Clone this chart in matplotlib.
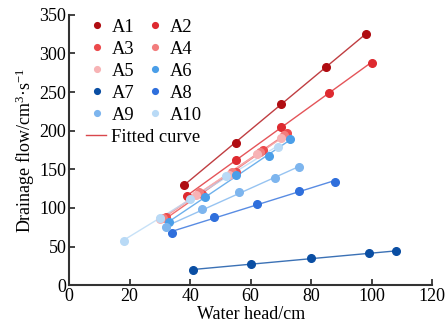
import matplotlib.pyplot as plt
import numpy as np

plt.rcParams['font.family'] = ['Liberation Serif', 'DejaVu Serif']
plt.rcParams['mathtext.fontset'] = 'custom'
plt.rcParams['mathtext.rm'] = 'Liberation Serif'
plt.rcParams['mathtext.it'] = 'Liberation Serif:italic'

# water head (cm) and drainage flow (cm3/s) per sample
names = ["A1", "A2", "A3", "A4", "A5", "A6", "A7", "A8", "A9", "A10"]
head = {
    "A1": [38, 55, 70, 85, 98],
    "A2": [39, 55, 70, 86, 100],
    "A3": [32, 44, 55, 64, 72],
    "A4": [31, 43, 54, 63, 71],
    "A5": [30, 42, 53, 62, 70],
    "A6": [33, 45, 55, 66, 73],
    "A7": [41, 60, 80, 99, 108],
    "A8": [34, 48, 62, 76, 88],
    "A9": [32, 44, 56, 68, 76],
    "A10": [18, 30, 40, 52, 69],
}
flow = {
    "A1": [130, 184, 234, 283, 325],
    "A2": [115, 162, 205, 249, 288],
    "A3": [88, 118, 147, 175, 197],
    "A4": [87, 120, 146, 172, 195],
    "A5": [86, 117, 143, 170, 190],
    "A6": [82, 114, 142, 167, 189],
    "A7": [20, 27, 35, 41, 44],
    "A8": [68, 88, 105, 122, 134],
    "A9": [75, 98, 120, 139, 153],
    "A10": [57, 87, 112, 141, 179],
}
colors = {
    "A1": "#b00d12", "A2": "#de2a30", "A3": "#ec4a4c", "A4": "#f27d7d",
    "A5": "#f7b3b5", "A6": "#4a9ee8", "A7": "#0a4ea3", "A8": "#2f6fdc",
    "A9": "#7db5ee", "A10": "#b9daf6",
}

fig = plt.figure(figsize=(4.46, 3.30), dpi=100)
ax = fig.add_axes([0.155, 0.136, 0.814, 0.819])

handles = {}
for n in names:
    x = np.array(head[n], dtype=float)
    y = np.array(flow[n], dtype=float)
    k, b = np.polyfit(x, y, 1)
    xs = np.array([x.min(), x.max()])
    ax.plot(xs, k * xs + b, color=colors[n], lw=1.0, alpha=0.8, zorder=2)
    h, = ax.plot(x, y, 'o', color=colors[n], ms=5.5, ls='none', zorder=3, label=n)
    handles[n] = h

fit_h, = ax.plot([], [], color="#d9474c", lw=1.0, label="Fitted curve")

# series legend: two columns, row-wise A1 A2 / A3 A4 ...
order = ["A1", "A3", "A5", "A7", "A9", "A2", "A4", "A6", "A8", "A10"]
leg1 = ax.legend([handles[n] for n in order], order, ncol=2, frameon=False,
                 fontsize=13.3, loc='upper left', bbox_to_anchor=(0.057, 0.985),
                 borderaxespad=0, borderpad=0, handlelength=0.8,
                 handletextpad=0.4, columnspacing=0.7, labelspacing=0.27,
                 markerscale=0.75)
ax.add_artist(leg1)
ax.legend([fit_h], ["Fitted curve"], frameon=False, fontsize=13.3,
          loc='upper left', bbox_to_anchor=(0.047, 0.578), borderaxespad=0,
          borderpad=0, handlelength=1.05, handletextpad=0.3)

ax.set_xlim(0, 120)
ax.set_ylim(0, 350)
ax.set_xticks(np.arange(0, 121, 20))
ax.set_yticks(np.arange(0, 351, 50))
ax.set_xlabel("Water head/cm", fontsize=13, labelpad=1)
ax.set_ylabel(r"Drainage flow/cm$^{3}$·s$^{-1}$", fontsize=13, labelpad=2)
ax.tick_params(direction='in', labelsize=13, length=4, width=1.2, pad=2,
               colors='#222222')
ax.tick_params(axis='x', labelcolor='black')
ax.tick_params(axis='y', labelcolor='black')
for s in ['top', 'right']:
    ax.spines[s].set_visible(False)
for s in ['left', 'bottom']:
    ax.spines[s].set_linewidth(1.5)
    ax.spines[s].set_color('#333333')

fig.savefig("out.png", dpi=100)
